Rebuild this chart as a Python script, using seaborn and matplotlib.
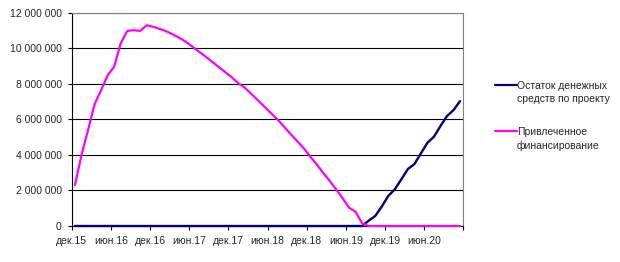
import matplotlib
matplotlib.use("Agg")
import matplotlib.pyplot as plt
from matplotlib.lines import Line2D
from matplotlib.ticker import FuncFormatter, MultipleLocator
import numpy as np
import pandas as pd
import seaborn as sns

# ---- data (values in millions of roubles, one point per month from Dec 2015) ----
month_index = list(range(60))
tick_labels = ["дек.15", "июн.16", "дек.16", "июн.17", "дек.17",
               "июн.18", "дек.18", "июн.19", "дек.19", "июн.20", ""]
series_names = ["Остаток денежных\nсредств по проекту",
                "Привлеченное\nфинансирование"]

cash_balance_mln = [
    0, 0, 0, 0, 0, 0, 0, 0, 0, 0,
    0, 0, 0, 0, 0, 0, 0, 0, 0, 0,
    0, 0, 0, 0, 0, 0, 0, 0, 0, 0,
    0, 0, 0, 0, 0, 0, 0, 0, 0, 0,
    0, 0, 0, 0, 0.0, 0.30, 0.56, 1.09, 1.69, 2.06,
    2.62, 3.20, 3.48, 4.08, 4.68, 5.02, 5.62, 6.18, 6.52, 7.02,
]
financing_mln = [
    2.30, 3.99, 5.39, 6.84, 7.64, 8.48, 8.95, 10.26, 10.97, 11.01,
    10.97, 11.29, 11.20, 11.08, 10.95, 10.77, 10.58, 10.36, 10.08, 9.80,
    9.53, 9.24, 8.95, 8.66, 8.37, 8.03, 7.78, 7.44, 7.08, 6.72,
    6.36, 6.00, 5.60, 5.19, 4.79, 4.39, 3.93, 3.48, 3.00, 2.55,
    2.06, 1.56, 1.03, 0.80, 0.15, 0, 0, 0, 0, 0,
    0, 0, 0, 0, 0, 0, 0, 0, 0, 0,
]
colors = ["#000080", "#FF00FF"]

# ---- style ----
sns.set_style("white")
plt.rcParams["font.family"] = ["Liberation Sans", "DejaVu Sans"]
plt.rcParams["font.size"] = 7.5

df = pd.DataFrame({
    "x": np.array(month_index) + 0.5,   # category centres
    "cash": cash_balance_mln,
    "fin": financing_mln,
})

fig = plt.figure(figsize=(6.2, 2.62), dpi=100)
ax = fig.add_axes([71.7 / 620, 36 / 262, (463.3 - 71.7) / 620, (226 - 12.6) / 262])

sns.lineplot(data=df, x="x", y="cash", ax=ax, color=colors[0], linewidth=1.7)
sns.lineplot(data=df, x="x", y="fin", ax=ax, color=colors[1], linewidth=1.6)
for ln in ax.lines:
    ln.set_clip_on(False)
    ln.set_zorder(3)
    ln.set_solid_joinstyle("round")

ax.set_xlim(0, 60)
ax.set_ylim(0, 12)
ax.set_xlabel("")
ax.set_ylabel("")

ax.set_xticks(np.arange(0, 61, 6))
ax.set_xticklabels(tick_labels)
ax.yaxis.set_major_locator(MultipleLocator(2))
ax.yaxis.set_major_formatter(FuncFormatter(
    lambda v, p: f"{v * 1e6:,.0f}".replace(",", " ")))

ax.tick_params(axis="x", direction="out", length=3, width=0.8, color="black",
               pad=4.5, labelsize=7.5, bottom=True)
ax.tick_params(axis="y", direction="out", length=3, width=0.8, color="black",
               pad=4.2, labelsize=7.5, left=True)

ax.grid(axis="y", color="black", linewidth=0.8)
ax.grid(axis="x", visible=False)
for side in ["left", "bottom"]:
    ax.spines[side].set_color("black")
    ax.spines[side].set_linewidth(0.8)
for side in ["top", "right"]:
    ax.spines[side].set_color("#808080")
    ax.spines[side].set_linewidth(0.8)
if ax.get_legend():
    ax.get_legend().remove()

# ---- legend (Excel style: key aligned with first text line) ----
def fy(py):
    return (262 - py) / 262

key_rows = [(85.0, 89.3, 102.3), (130.7, 135.0, 149.0)]
for (ky, b1, b2), name, c in zip(key_rows, series_names, colors):
    fig.add_artist(Line2D([495 / 620, 517 / 620], [fy(ky), fy(ky)],
                          color=c, linewidth=1.6))
    lines = name.split("\n")
    fig.text(517 / 620, fy(b1), lines[0], ha="left", va="baseline", fontsize=7.5)
    fig.text(517 / 620, fy(b2), lines[1], ha="left", va="baseline", fontsize=7.5)

fig.savefig("out.png", dpi=100, facecolor="white")
